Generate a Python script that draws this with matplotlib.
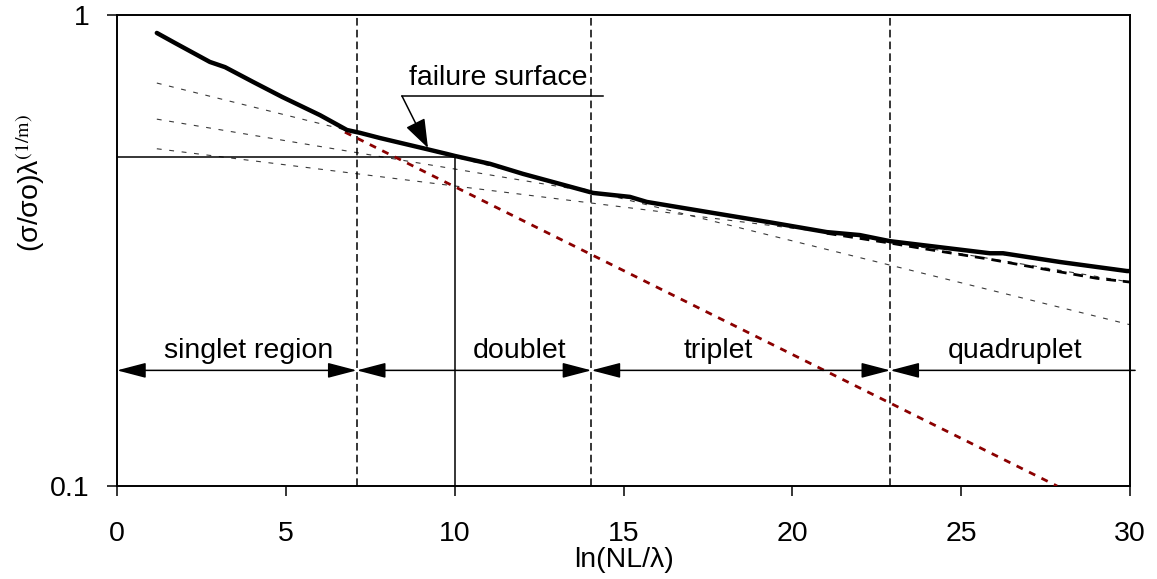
import matplotlib
matplotlib.use("Agg")
import matplotlib.pyplot as plt
from matplotlib.patches import FancyArrowPatch, ArrowStyle

plt.rcParams['font.family'] = ['Liberation Sans', 'DejaVu Sans']
plt.rcParams['mathtext.fontset'] = 'stix'
plt.rcParams['lines.scale_dashes'] = False

# Failure surface (envelope of the cluster curves)
fail_x = [1.18, 1.72, 2.75, 3.20, 4.03, 4.89, 6.01, 6.81, 7.20, 7.79, 9.18, 9.77,
          10.01, 11.05, 12.02, 12.91, 14.10, 15.19, 15.69, 17.65, 19.43, 21.02,
          22.00, 22.89, 25.85, 26.24, 27.92, 29.91, 30.00]
fail_y = [0.916, 0.872, 0.795, 0.775, 0.721, 0.670, 0.613, 0.570, 0.562, 0.548,
          0.519, 0.507, 0.502, 0.483, 0.460, 0.442, 0.419, 0.411, 0.401, 0.380,
          0.362, 0.346, 0.341, 0.331, 0.312, 0.312, 0.299, 0.286, 0.286]

# Singlet curve continued past its own region
singlet_x = [6.75, 27.84]
singlet_y = [0.564, 0.100]

# Doublet, triplet and quadruplet curves
doublet_x = [1.18, 30.0]
doublet_y = [0.717, 0.220]
triplet_x = [1.18, 30.0]
triplet_y = [0.601, 0.271]
quad_x = [1.18, 30.0]
quad_y = [0.520, 0.287]

# Triplet curve where it runs just under the quadruplet envelope
triplet_tail_x = [21.02, 22.89, 23.78, 25.85, 27.42, 29.02, 30.0]
triplet_tail_y = [0.344, 0.328, 0.320, 0.303, 0.289, 0.276, 0.271]

# Region boundaries and labels
boundaries = [7.1, 14.05, 22.9]
region_names = ['singlet region', 'doublet', 'triplet', 'quadruplet']
region_centers = [3.9, 11.93, 17.8, 26.6]
arrow_level = 0.176
label_level = 0.187

# Reference point on the failure surface
ref_x = 10.0
ref_y = 0.5

xticks = [0, 5, 10, 15, 20, 25, 30]
yticks = [0.1, 1]
ytick_labels = ['0.1', '1']

FS = 20.5

fig = plt.figure(figsize=(11.57, 5.79), dpi=100)
ax = fig.add_axes([0.1011, 0.1606, 0.8756, 0.8135])
ax.set_yscale('log')
ax.set_xlim(0, 30)
ax.set_ylim(0.1, 1)

thin = dict(color='#3a3a3a', lw=0.8, dashes=(3.5, 5.5), zorder=2)
ax.plot(doublet_x, doublet_y, **thin)
ax.plot(triplet_x, triplet_y, **thin)
ax.plot(quad_x, quad_y, **thin)
ax.plot(triplet_tail_x, triplet_tail_y, color='black', lw=2.0,
        dashes=(7, 5), zorder=3)
ax.plot(singlet_x, singlet_y, color='#8B0000', lw=2.0, dashes=(5, 5), zorder=3)
ax.plot(fail_x, fail_y, color='black', lw=3.2, solid_joinstyle='round',
        solid_capstyle='round', zorder=4)

for b in boundaries:
    ax.plot([b, b], [0.1, 1], color='black', lw=1.1, dashes=(5.5, 3), zorder=2)

ax.plot([0, ref_x], [ref_y, ref_y], color='black', lw=1.1, zorder=2)
ax.plot([ref_x, ref_x], [0.1, ref_y], color='black', lw=1.1, zorder=2)

# Region arrows
edges = [0] + boundaries
ends = boundaries + [30.15]
for i, (a, b) in enumerate(zip(edges, ends)):
    style = '<|-|>' if i < 3 else '<|-'
    arr = FancyArrowPatch((a, arrow_level), (b, arrow_level),
                          arrowstyle=ArrowStyle(style, head_length=18, head_width=4.7),
                          mutation_scale=1, shrinkA=0, shrinkB=0,
                          color='black', lw=1.1, clip_on=False, zorder=5)
    ax.add_patch(arr)
for name, cx in zip(region_names, region_centers):
    ax.text(cx, label_level, name, ha='center', va='baseline', fontsize=FS)

# Failure surface callout
ax.plot([8.44, 14.39], [0.673, 0.673], color='black', lw=1.1, zorder=5)
ax.add_patch(FancyArrowPatch((8.44, 0.673), (9.21, 0.522),
                             arrowstyle=ArrowStyle('-|>', head_length=18, head_width=6.5),
                             mutation_scale=1, shrinkA=0, shrinkB=0,
                             color='black', lw=1.1, zorder=5))
ax.text(11.3, 0.710, 'failure surface', ha='center', va='baseline', fontsize=FS)

ax.set_xticks(xticks)
ax.set_xticklabels([str(t) for t in xticks])
ax.set_yticks(yticks)
ax.set_yticklabels(ytick_labels)
ax.yaxis.set_minor_locator(matplotlib.ticker.NullLocator())
ax.tick_params(axis='both', which='major', direction='out', length=7, width=1.1,
               labelsize=FS)
ax.tick_params(axis='x', pad=18)
ax.tick_params(axis='y', pad=13)
for s in ax.spines.values():
    s.set_linewidth(1.4)

ax.set_xlabel('ln(NL/λ)', fontsize=FS, labelpad=0)
fig.text(30 / 1157, 1 - 183 / 579, r'(σ/σo)λ$^{\mathrm{(1/m)}}$', fontsize=FS,
         rotation=90, ha='center', va='center')

fig.savefig('out.png', dpi=100)
